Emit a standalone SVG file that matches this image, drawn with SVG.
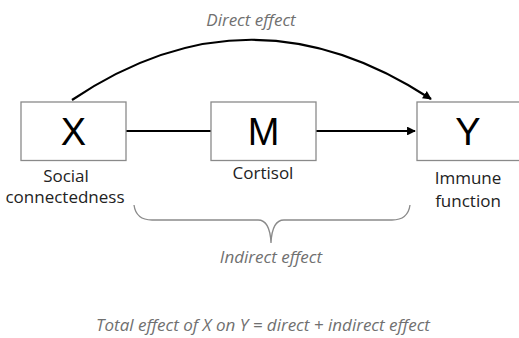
<svg xmlns="http://www.w3.org/2000/svg" width="519" height="338" viewBox="0 0 519 338">
<style>
.box{fill:#fff;stroke:#8a8a8a;stroke-width:1.3}
.big{font-family:"Liberation Sans",Arial,sans-serif;font-size:38px;fill:#000;text-anchor:middle}
.lab{font-family:"Open Sans","Liberation Sans",sans-serif;font-size:17px;fill:#222;text-anchor:middle}
.it{font-family:"Open Sans","Liberation Sans",sans-serif;font-size:17px;font-style:italic;fill:#707070;text-anchor:middle}
.con{fill:none;stroke:#000;stroke-width:2.2}
</style>
<defs>
<marker id="ah" viewBox="0 0 10 10" refX="9" refY="5" markerWidth="4" markerHeight="4" orient="auto" markerUnits="strokeWidth">
<path d="M0,0 L10,5 L0,10 z" fill="#000"/>
</marker>
</defs>
<rect width="519" height="338" fill="#fff"/>
<g id="connectors">
<path class="con" d="M72,100 Q250,-20 431,99" marker-end="url(#ah)"/>
<line class="con" x1="126" y1="131" x2="211" y2="131"/>
<line class="con" x1="316" y1="131" x2="415" y2="131" marker-end="url(#ah)"/>
</g>
<g id="nodeX">
<rect class="box" x="21" y="102" width="105" height="58.5"/>
<text class="big" x="73.5" y="145">X</text>
<text class="lab" x="66" y="182">Social</text>
<text class="lab" x="65" y="203">connectedness</text>
</g>
<g id="nodeM">
<rect class="box" x="211" y="102" width="105" height="58.5"/>
<text class="big" x="263.5" y="145">M</text>
<text class="lab" x="263" y="179">Cortisol</text>
</g>
<g id="nodeY">
<rect class="box" x="417" y="102" width="110" height="58.5"/>
<text class="big" x="468" y="145">Y</text>
<text class="lab" x="468" y="184">Immune</text>
<text class="lab" x="468" y="207">function</text>
</g>
<g id="brace">
<path d="M134,205 Q136,220 152,220 L258,220 Q270,220 271,243 Q272,220 284,220 L392,220 Q408,220 410,205" fill="none" stroke="#8a8a8a" stroke-width="1.3"/>
</g>
<text class="it" x="251" y="26">Direct effect</text>
<text class="it" x="271" y="263">Indirect effect</text>
<text class="it" x="263" y="331">Total effect of X on Y = direct + indirect effect</text>
</svg>
